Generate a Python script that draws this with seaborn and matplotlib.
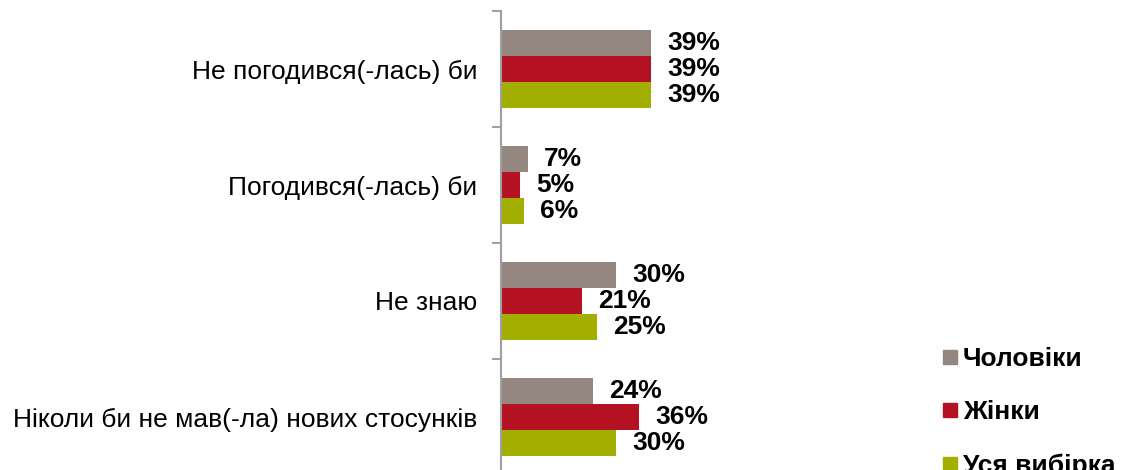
import pandas as pd
import seaborn as sns
import matplotlib.pyplot as plt
from matplotlib.lines import Line2D

categories = ['Не погодився(-лась) би', 'Погодився(-лась) би', 'Не знаю',
              'Ніколи би не мав(-ла) нових стосунків']
series = ['Чоловіки', 'Жінки', 'Уся вибірка']
men = [39, 7, 30, 24]
women = [39, 5, 21, 36]
total = [39, 6, 25, 30]
colors = ['#93877F', '#B41222', '#A3AF00']

rows = []
for name, vals in zip(series, [men, women, total]):
    for cat, v in zip(categories, vals):
        rows.append({'cat': cat, 'series': name, 'value': v})
df = pd.DataFrame(rows)

sns.set_style('white')
plt.rcParams['font.family'] = ['Liberation Sans', 'DejaVu Sans']

fig = plt.figure(figsize=(11.21, 4.70), dpi=100)
ax = fig.add_axes([501 / 1121, -5 / 470, 0.343, 464 / 470])

sns.barplot(data=df, y='cat', x='value', hue='series', palette=colors,
            orient='h', width=0.672, legend=False, ax=ax, saturation=1,
            linewidth=0)

for cont in ax.containers:
    ax.bar_label(cont, fmt='{:.0f}%', padding=11.5, fontsize=19,
                 fontweight='bold', color='black')

ax.set_xlim(0, 100)
ax.set_ylim(3.5, -0.5)
ax.set_xlabel('')
ax.set_ylabel('')
ax.set_xticks([])
for s in ['top', 'right', 'bottom']:
    ax.spines[s].set_visible(False)
ax.spines['left'].set_color('#A0A0A0')
ax.spines['left'].set_linewidth(1.5)

ax.set_yticks(range(len(categories)))
ax.set_yticklabels(categories, fontsize=19, color='black')
ax.tick_params(axis='y', which='major', length=0, pad=17)
ax.set_yticks([-0.5, 0.5, 1.5, 2.5, 3.5], minor=True)
ax.tick_params(axis='y', which='minor', left=True, length=6.5, width=1.5,
               color='#A0A0A0')

handles = [Line2D([], [], marker='s', linestyle='none', markersize=10,
                  markerfacecolor=c, markeredgecolor=c) for c in colors]
leg = fig.legend(handles, series, loc='upper left',
                 bbox_to_anchor=(942 / 1121, 0.262),
                 frameon=False, borderpad=0, borderaxespad=0, handlelength=0.6,
                 handletextpad=0.2, labelspacing=1.12,
                 prop={'size': 19, 'weight': 'bold'})
for t in leg.get_texts():
    t.set_color('black')

fig.savefig('out.png', dpi=100)
